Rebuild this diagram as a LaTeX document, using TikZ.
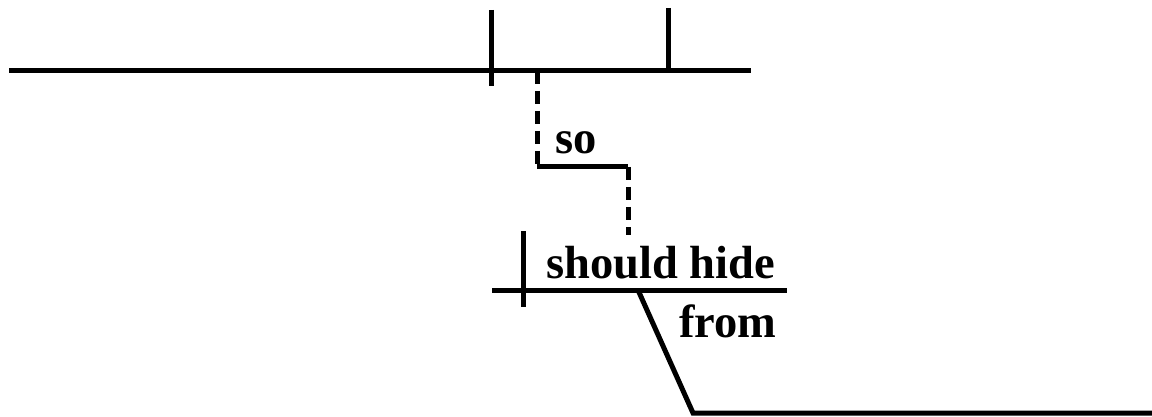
\documentclass[tikz,border=0pt]{standalone}
\usepackage{fontspec}
\setmainfont{Liberation Serif}
\begin{document}
\begin{tikzpicture}[x=1pt,y=-1pt,
  ln/.style={line width=5pt},
  dsh/.style={line width=5pt,dash pattern=on 13pt off 7pt},
  word/.style={inner sep=0pt,anchor=base west,font=\bfseries\fontsize{46.5}{50}\selectfont}]
\useasboundingbox (0,0) rectangle (1152,417);
% main clause line
\coordinate (m0) at (9,71);
\coordinate (m1) at (751,71);
\coordinate (t1a) at (491,10);
\coordinate (t1b) at (491,86);
\coordinate (t2a) at (668,8);
\coordinate (t2b) at (668,71);
\draw[ln] (m0) -- (m1);
\draw[ln] (t1a) -- (t1b);
\draw[ln] (t2a) -- (t2b);
% connector "so"
\coordinate (c0) at (537,71);
\coordinate (c1) at (537,167);
\coordinate (c2) at (628,167);
\coordinate (c3) at (628,235);
\draw[dsh] (c0) -- (c1);
\draw[ln] (c1) -- (c2);
\draw[dsh] (c2) -- (c3);
\node[word] (so) at (555,154) {so};
% subordinate clause
\coordinate (s0) at (492,290);
\coordinate (s1) at (787,290);
\coordinate (u1) at (523,231);
\coordinate (u2) at (523,307);
\draw[ln] (s0) -- (s1);
\draw[ln] (u1) -- (u2);
\node[word] (sh) at (546,278) {should hide};
% prepositional phrase
\coordinate (p0) at (638,290);
\coordinate (p1) at (693,413);
\coordinate (p2) at (1152,413);
\draw[ln,line join=miter] (p0) -- (p1) -- (p2);
\node[word] (from) at (679,337) {from};
\end{tikzpicture}
\end{document}
